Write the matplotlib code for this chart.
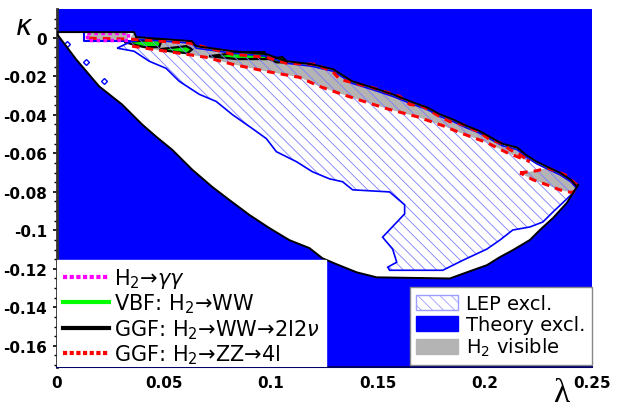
import numpy as np
import matplotlib
matplotlib.use("Agg")
import matplotlib.pyplot as plt
from matplotlib.patches import Polygon, Patch
from matplotlib.lines import Line2D
import matplotlib.transforms as mtrans

# allowed (theory) region: upper edge, left -> right
up_lam = [0.0, 0.036, 0.037, 0.063, 0.065, 0.082, 0.098, 0.107, 0.119, 0.129,
          0.138, 0.147, 0.157, 0.165, 0.173, 0.179, 0.185, 0.191, 0.197, 0.208,
          0.215, 0.219, 0.224, 0.229, 0.235, 0.240, 0.243]
up_kap = [0.003, 0.003, 0.0004, -0.0017, -0.0043, -0.0069, -0.0085, -0.0121, -0.0137, -0.0163,
          -0.0226, -0.0257, -0.0294, -0.033, -0.0362, -0.0398, -0.0424, -0.0456, -0.0482, -0.055,
          -0.057, -0.0607, -0.0643, -0.067, -0.0701, -0.0737, -0.0774]
# allowed region: lower edge, left -> right
lo_lam = [0.0, 0.0089, 0.0197, 0.0304, 0.0398, 0.0463, 0.0538, 0.0632, 0.0725, 0.0805,
          0.0899, 0.0992, 0.1086, 0.1179, 0.124, 0.1306, 0.14, 0.1493, 0.1835, 0.1942,
          0.2008, 0.2069, 0.2129, 0.2209, 0.2256, 0.2317, 0.2382, 0.2434]
lo_kap = [0.002, -0.0111, -0.0252, -0.0346, -0.045, -0.0513, -0.0581, -0.0685, -0.0774, -0.0842,
          -0.092, -0.0988, -0.1051, -0.1092, -0.1145, -0.1176, -0.1218, -0.1244, -0.125, -0.1207,
          -0.1181, -0.1139, -0.1103, -0.105, -0.0998, -0.0936, -0.0857, -0.0764]

# LEP exclusion: lower/left boundary, left -> right (upper edge follows theory edge)
lep_lam = [0.0281, 0.036, 0.0431, 0.051, 0.0571, 0.0665, 0.0744, 0.0819, 0.0913, 0.0978,
           0.1025, 0.1119, 0.1193, 0.1273, 0.1334, 0.1381, 0.1554, 0.1624, 0.1624, 0.1521,
           0.1568, 0.1587, 0.1545, 0.1554, 0.1802, 0.1896, 0.2008, 0.2069, 0.2129, 0.2209,
           0.2270, 0.2317, 0.2382, 0.2429]
lep_kap = [-0.0043, -0.0059, -0.0111, -0.0148, -0.0215, -0.0283, -0.032, -0.0388, -0.0461, -0.0513,
           -0.0581, -0.0633, -0.0685, -0.0722, -0.0737, -0.0779, -0.079, -0.0857, -0.0904, -0.1025,
           -0.1087, -0.1155, -0.1181, -0.1197, -0.1197, -0.1145, -0.1087, -0.104, -0.0988, -0.0972,
           -0.0946, -0.0894, -0.0826, -0.0774]
lep_pill_lam = [0.0126, 0.037, 0.037, 0.0126]
lep_pill_kap = [0.0032, 0.0032, -0.0017, -0.0017]
lep_dots_lam = [0.0047, 0.0136, 0.022]
lep_dots_kap = [-0.0033, -0.0127, -0.0226]

# H2 -> ZZ -> 4l contour (red), upper and lower edge
zz_up_lam = [0.0346, 0.0618, 0.0819, 0.0978, 0.1072, 0.1203, 0.1287, 0.132, 0.1414, 0.147,
             0.1601, 0.1648, 0.1709, 0.1788, 0.1835, 0.1896, 0.1976, 0.2022, 0.2069, 0.2116,
             0.2163, 0.2209]
zz_up_kap = [-0.0007, -0.0027, -0.0085, -0.0101, -0.0132, -0.0137, -0.0174, -0.0215, -0.0242, -0.0257,
             -0.0304, -0.0346, -0.0356, -0.0409, -0.0435, -0.045, -0.0492, -0.0529, -0.0544, -0.0581,
             -0.0607, -0.0643]
zz_lo_lam = [0.0351, 0.0445, 0.0604, 0.0697, 0.0819, 0.0978, 0.1133, 0.1226, 0.1334, 0.1447,
             0.1554, 0.168, 0.1802, 0.1881, 0.2008, 0.2101, 0.2209]
zz_lo_kap = [-0.0043, -0.0059, -0.0085, -0.0101, -0.0137, -0.0174, -0.0205, -0.0252, -0.0294, -0.0335,
             -0.0372, -0.0409, -0.0456, -0.0492, -0.0544, -0.0596, -0.0643]
zz_tip_lam = [0.2163, 0.2243, 0.229, 0.2373, 0.2429, 0.2410, 0.235, 0.229, 0.2223]
zz_tip_kap = [-0.0701, -0.069, -0.0675, -0.0711, -0.0764, -0.0805, -0.079, -0.0764, -0.0737]
zz_pill_lam = [0.015, 0.034]
zz_pill_kap = [-0.0002, -0.0006]

# VBF H2 -> WW islands (green, black edge)
vbf_islands = [
    ([0.0314, 0.0491, 0.0477, 0.0407], [-0.0022, -0.0007, -0.0048, -0.0048]),
    ([0.0477, 0.0604, 0.0632, 0.0609, 0.0524], [-0.0059, -0.0043, -0.0059, -0.008, -0.0069]),
    ([0.0711, 0.0866, 0.0969, 0.0983, 0.0838], [-0.0095, -0.0074, -0.0074, -0.011, -0.011]),
    ([0.0992, 0.1053, 0.1077, 0.1025], [-0.011, -0.010, -0.0127, -0.0127]),
]
# H2 -> gamma gamma (magenta)
gg_lam = [0.014, 0.033, 0.033, 0.014]
gg_kap = [0.0025, 0.0025, -0.0010, -0.0010]

x_ticks = [0, 0.05, 0.1, 0.15, 0.2, 0.25]
x_labels = ["0", "0.05", "0.1", "0.15", "0.2", "0.25"]
y_ticks = [0, -0.02, -0.04, -0.06, -0.08, -0.1, -0.12, -0.14, -0.16]
y_labels = ["0", "-0.02", "-0.04", "-0.06", "-0.08", "-0.1", "-0.12", "-0.14", "-0.16"]

BLUE = "#0000ff"
GREEN = "#00ee00"
GRAY = "#b4b4b4"

plt.rcParams["hatch.linewidth"] = 0.6

fig = plt.figure(figsize=(6.18, 4.10), dpi=100)
ax = fig.add_axes([0.0922, 0.1024, 0.866, 0.8732])
ax.set_facecolor(BLUE)
ax.set_xlim(0, 0.25)
ax.set_ylim(-0.171, 0.015)

# allowed region (white)
allowed = np.column_stack([up_lam + lo_lam[::-1], up_kap + lo_kap[::-1]])
ax.add_patch(Polygon(allowed, closed=True, facecolor="white", edgecolor="none", zorder=1))

# H2 visible region (gray)
up_lam_a = np.array(up_lam)
up_kap_a = np.array(up_kap)
sel = (up_lam_a > 0.035) & (up_lam_a < 0.221)
gray_x = [0.0346] + list(up_lam_a[sel]) + [0.2209] + zz_lo_lam[::-1]
gray_y = [0.0005] + list(up_kap_a[sel]) + [-0.0643] + zz_lo_kap[::-1]
ax.fill(gray_x, gray_y, color=GRAY, lw=0, zorder=2)
ax.fill(zz_tip_lam, zz_tip_kap, color=GRAY, lw=0, zorder=2)
ax.fill(gg_lam, gg_kap, color=GRAY, lw=0, zorder=2)

# VBF islands
for lx, ly in vbf_islands:
    ax.fill(lx, ly, facecolor=GREEN, edgecolor="black", lw=1.6, zorder=3)

# LEP excluded (hatched), shifted a touch inside the theory edge
shift = mtrans.offset_copy(ax.transData, fig=fig, x=0, y=-2, units="dots")
lep_x = up_lam[2:] + lep_lam[::-1]
lep_y = up_kap[2:] + lep_kap[::-1]
lep = np.column_stack([lep_x, lep_y])
ax.add_patch(Polygon(lep, closed=True, facecolor="none", edgecolor="#7d7dff",
                     hatch="\\\\\\", lw=0, zorder=4, transform=shift))
ax.add_patch(Polygon(lep, closed=True, facecolor="none", edgecolor=BLUE, lw=1.2,
                     zorder=4, transform=shift))
pill = np.column_stack([lep_pill_lam, lep_pill_kap])
ax.add_patch(Polygon(pill, closed=True, facecolor="none", edgecolor=BLUE, lw=1.5,
                     joinstyle="round", zorder=4))
ax.plot(lep_dots_lam, lep_dots_kap, "D", ms=3, mfc="white", mec=BLUE, mew=1, zorder=4)

# ZZ -> 4l contours (red dashed)
ax.plot(zz_up_lam, zz_up_kap, color="red", ls=(0, (2.5, 2)), lw=2.2, zorder=6)
ax.plot(zz_lo_lam, zz_lo_kap, color="red", ls=(0, (2.5, 2)), lw=2.2, zorder=6)
ax.plot(zz_tip_lam + zz_tip_lam[:1], zz_tip_kap + zz_tip_kap[:1], color="red",
        ls=(0, (2.5, 2)), lw=2.2, zorder=6)
ax.plot(zz_pill_lam, zz_pill_kap, color="red", ls=(0, (2.5, 2)), lw=2.2, zorder=6)

# gamma gamma (magenta dotted)
ax.plot(gg_lam + gg_lam[:1], gg_kap + gg_kap[:1], color="#ff00ff", ls=(0, (1, 1)),
        lw=2.5, zorder=6)

# theory boundary (black)
ax.plot(up_lam, up_kap, color="black", lw=1.4, zorder=7)
ax.plot(lo_lam, lo_kap, color="black", lw=1.4, zorder=7)

# axes cosmetics
ax.set_xticks(x_ticks)
ax.set_xticklabels(x_labels, fontsize=11, fontweight="bold")
ax.set_yticks(y_ticks)
ax.set_yticklabels(y_labels, fontsize=11, fontweight="bold")
ax.set_yticks(np.arange(-0.17, 0.015, 0.005), minor=True)
ax.tick_params(axis="both", which="major", direction="out", length=3, width=1.2, pad=4)
ax.tick_params(axis="y", which="minor", direction="out", length=2, width=1)
ax.tick_params(axis="x", which="major", length=0, pad=6)
for s in ["top", "right"]:
    ax.spines[s].set_visible(False)
ax.spines["left"].set_linewidth(2)
ax.spines["left"].set_color("#333333")
ax.spines["bottom"].set_linewidth(1.5)
ax.spines["bottom"].set_color("#000066")

fig.text(24 / 618, 1 - 27 / 410, r"$\kappa$", fontsize=20, ha="center", va="center")
fig.text(561 / 618, 1 - 394 / 410, "λ", fontsize=24, family="Liberation Serif",
         ha="center", va="center")

# legends
line_handles = [
    Line2D([], [], color="#ff00ff", ls=(0, (1, 0.6)), lw=3),
    Line2D([], [], color="#00ff00", lw=3),
    Line2D([], [], color="black", lw=3),
    Line2D([], [], color="red", ls=(0, (1, 0.6)), lw=3),
]
line_labels = [r"H$_2$→$\gamma\gamma$", r"VBF: H$_2$→WW",
               r"GGF: H$_2$→WW→2l2$\nu$", r"GGF: H$_2$→ZZ→4l"]
leg1 = ax.legend(line_handles, line_labels, loc="lower left", bbox_to_anchor=(0, -0.014),
                 borderaxespad=0, fontsize=15, frameon=True, fancybox=False,
                 handlelength=2.2, handletextpad=0.25, labelspacing=0.08,
                 borderpad=0.3, edgecolor="white", framealpha=1)
leg1.set_zorder(10)
leg1.get_frame().set_clip_on(True)
leg1.get_frame().set_clip_box(ax.bbox)
ax.add_artist(leg1)

patch_handles = [
    Patch(facecolor="white", edgecolor="#9d9dff", hatch="\\\\\\"),
    Patch(facecolor=BLUE, edgecolor=BLUE),
    Patch(facecolor=GRAY, edgecolor=GRAY),
]
patch_labels = ["LEP excl.", "Theory excl.", r"H$_2$ visible"]
leg2 = ax.legend(patch_handles, patch_labels, loc="lower right", bbox_to_anchor=(1, 0.005),
                 borderaxespad=0, fontsize=14, frameon=True, fancybox=False,
                 handlelength=2.15, handleheight=0.85, handletextpad=0.4, labelspacing=0.1,
                 borderpad=0.35, edgecolor="#888888", framealpha=1)
leg2.set_zorder(10)

fig.savefig("out.png", dpi=100)
